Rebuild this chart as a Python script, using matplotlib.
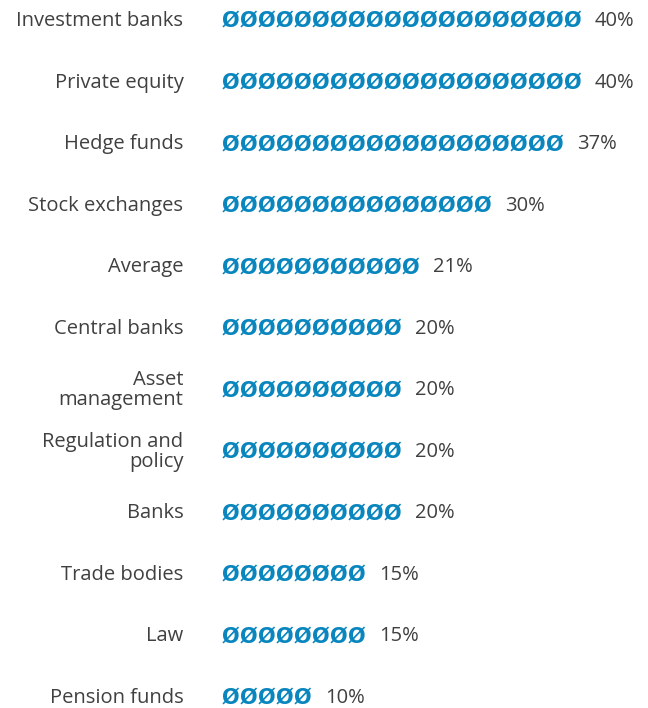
import matplotlib.pyplot as plt
import numpy as np

# one icon stands for 2 percentage points
categories = [
    "Investment banks",
    "Private equity",
    "Hedge funds",
    "Stock exchanges",
    "Average",
    "Central banks",
    "Asset\nmanagement",
    "Regulation and\npolicy",
    "Banks",
    "Trade bodies",
    "Law",
    "Pension funds",
]
values = [40, 40, 37, 30, 21, 20, 20, 20, 20, 15, 15, 10]
pct_per_icon = 2

ICON = "\u00d8"
ICON_COLOR = "#0A86BE"
TEXT_COLOR = "#404040"

plt.rcParams["font.family"] = ["Open Sans", "DejaVu Sans"]

fig = plt.figure(figsize=(6.48, 7.08), dpi=100)
ax = fig.add_axes([221 / 648, 0, 1 - 221 / 648, 1])

step_px = 18.0
row_px = 61.5
ax.set_xlim(0, (648 - 221) / step_px)
ax.set_ylim(11 + 10 / row_px, -21 / row_px)

for row, val in enumerate(values):
    n_icons = int(np.ceil(val / pct_per_icon))
    for i in range(n_icons):
        ax.text(i + 0.5, row, ICON, ha="center", va="center",
                fontsize=15, fontweight="bold", color=ICON_COLOR,
                family="DejaVu Sans")
    ax.text(n_icons + 0.78, row, f"{val}%", ha="left", va="center",
            fontsize=14.5, color=TEXT_COLOR)

ax.set_yticks(range(len(categories)))
ax.set_yticklabels(categories, fontsize=14.5, color=TEXT_COLOR, linespacing=1.02,
                   va="center")
ax.tick_params(axis="y", length=0, pad=27)
ax.set_xticks([])
for spine in ax.spines.values():
    spine.set_visible(False)

fig.savefig("out.png", dpi=100)
